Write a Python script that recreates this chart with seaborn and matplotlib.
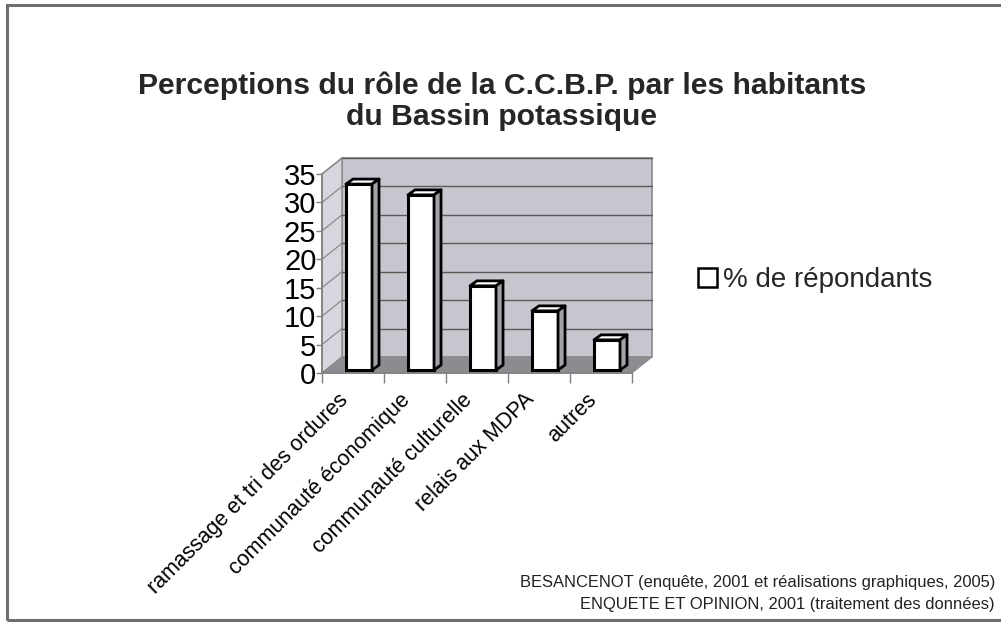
import matplotlib
matplotlib.use("Agg")
import matplotlib.pyplot as plt
from matplotlib.patches import Polygon, Rectangle, Patch
from matplotlib.transforms import ScaledTranslation
import seaborn as sns
import pandas as pd

# Data
categories = [
    "ramassage et tri des ordures",
    "communauté économique",
    "communauté culturelle",
    "relais aux MDPA",
    "autres",
]
values = [32.7, 30.8, 14.8, 10.4, 5.3]
series_name = "% de répondants"
yticks = [0, 5, 10, 15, 20, 25, 30, 35]

sns.set_theme(style="white")
plt.rcParams["font.family"] = ["Liberation Sans", "DejaVu Sans"]

W, H = 1001, 622
fig = plt.figure(figsize=(W / 100, H / 100), dpi=100)
fig.patch.set_facecolor("white")

# Front plane of the plot area in pixels
ax_left, ax_right = 322, 632
ax_bottom, ax_top = 373, 174
ax = fig.add_axes([ax_left / W, (H - ax_bottom) / H,
                   (ax_right - ax_left) / W, (ax_bottom - ax_top) / H])
ax.set_xlim(-0.5, 4.5)
ax.set_ylim(0, 35)
ax.set_facecolor("none")

px_x = 5.0 / (ax_right - ax_left)      # data units per pixel (x)
px_y = 35.0 / (ax_bottom - ax_top)     # data units per pixel (y)

# Depth of the plot box
wdx, wdy = 20 * px_x, 16 * px_y
# Bar placement within the depth and bar depth
bar_ox, bar_oy = 6 * px_x, 3 * px_y
bdx, bdy = 7 * px_x, 5 * px_y

wall_col = "#c6c6ce"
side_col = "#d6d6de"
floor_col = "#8c8c90"
grid_col = "#5a5a5a"

x0, x1 = -0.5, 4.5
# back wall
ax.add_patch(Polygon([(x0 + wdx, wdy), (x1 + wdx, wdy), (x1 + wdx, 35 + wdy), (x0 + wdx, 35 + wdy)],
                     closed=True, facecolor=wall_col, edgecolor="#8a8a8a", lw=1.2,
                     clip_on=False, zorder=0))
# side wall
ax.add_patch(Polygon([(x0, 0), (x0, 35), (x0 + wdx, 35 + wdy), (x0 + wdx, wdy)],
                     closed=True, facecolor=side_col, edgecolor="#8a8a8a", lw=1.0,
                     clip_on=False, zorder=0))
# gridlines on back and side walls
for t in yticks[1:]:
    ax.plot([x0 + wdx, x1 + wdx], [t + wdy, t + wdy], color=grid_col, lw=1.0,
            clip_on=False, zorder=1)
    ax.plot([x0, x0 + wdx], [t, t + wdy], color="#8a8a8a", lw=0.9,
            clip_on=False, zorder=1)
# floor
ax.add_patch(Polygon([(x0, 0), (x1, 0), (x1 + wdx, wdy), (x0 + wdx, wdy)],
                     closed=True, facecolor=floor_col, edgecolor=floor_col, lw=0.8,
                     clip_on=False, zorder=2))

df = pd.DataFrame({"categorie": categories, "valeur": values})
sns.barplot(data=df, x="categorie", y="valeur", color="white", edgecolor="black",
            linewidth=2.2, width=0.42, saturation=1, ax=ax, zorder=4)

bars = [pp for pp in ax.patches
        if pp.get_facecolor()[:3] == (1.0, 1.0, 1.0) and pp.get_width() < 1]
for p in bars:
    p.set_x(p.get_x() + bar_ox)
    p.set_y(bar_oy)
    p.set_clip_on(False)
    p.set_zorder(4)
    bx0 = p.get_x()
    bx1 = bx0 + p.get_width()
    top = bar_oy + p.get_height()
    # top face
    ax.add_patch(Polygon([(bx0, top), (bx1, top), (bx1 + bdx, top + bdy), (bx0 + bdx, top + bdy)],
                         closed=True, facecolor="white", edgecolor="black", lw=2.0,
                         joinstyle="round", clip_on=False, zorder=5))
    # side face
    ax.add_patch(Polygon([(bx1, bar_oy), (bx1, top), (bx1 + bdx, top + bdy), (bx1 + bdx, bar_oy + bdy)],
                         closed=True, facecolor="#a2a2a8", edgecolor="black", lw=2.0,
                         joinstyle="round", clip_on=False, zorder=5))

# axes styling
for s in ["top", "right"]:
    ax.spines[s].set_visible(False)
for s in ["left", "bottom"]:
    ax.spines[s].set_color("#808080")
    ax.spines[s].set_linewidth(1.2)
    ax.spines[s].set_zorder(3)

ax.set_yticks(yticks)
ax.set_yticklabels([str(t) for t in yticks], fontsize=21, color="black")
ax.tick_params(axis="y", which="major", direction="out", length=4, width=1.0,
               color="#808080", pad=0, left=True)
ax.set_xticks(range(len(categories)))
ax.set_xticklabels(categories, rotation=45, ha="right", va="center",
                   rotation_mode="anchor", fontsize=15.5, color="black")
ax.set_xticks([i - 0.5 for i in range(len(categories) + 1)], minor=True)
ax.tick_params(axis="x", which="major", length=0, pad=17)
ax.tick_params(axis="x", which="minor", direction="out", length=7, width=1.0,
               color="#808080", bottom=True)
shift = ScaledTranslation(-8 / 100, 0, fig.dpi_scale_trans)
for lab in ax.get_xticklabels():
    lab.set_transform(lab.get_transform() + shift)
ax.set_xlabel("")
ax.set_ylabel("")
ax.grid(False)

# legend
fig.legend(handles=[Patch(facecolor="white", edgecolor="black", linewidth=1.8, label=series_name)],
           loc="center left", bbox_to_anchor=(698 / W, 1 - 280 / H), frameon=False,
           fontsize=20, handlelength=0.7, handleheight=0.7, handletextpad=0.2,
           borderpad=0, borderaxespad=0)

# title
fig.text(502 / W, 1 - 101 / H,
         "Perceptions du rôle de la C.C.B.P. par les habitants\ndu Bassin potassique",
         ha="center", va="center", fontsize=21.7, fontweight="bold", linespacing=1.12)

# sources
fig.text(995 / W, 1 - 582 / H,
         "BESANCENOT (enquête, 2001 et réalisations graphiques, 2005)",
         ha="right", va="center", fontsize=11.9, color="#222222")
fig.text(995 / W, 1 - 605 / H,
         "ENQUETE ET OPINION, 2001 (traitement des données)",
         ha="right", va="center", fontsize=11.9, color="#222222")

# outer frame
fig.add_artist(Rectangle((7 / W, 2 / H), 1.0, 1 - 7 / H, transform=fig.transFigure,
                         facecolor="none", edgecolor="#6e6e6e", lw=2.2, clip_on=False))

fig.savefig("out.png", dpi=100, facecolor="white")
